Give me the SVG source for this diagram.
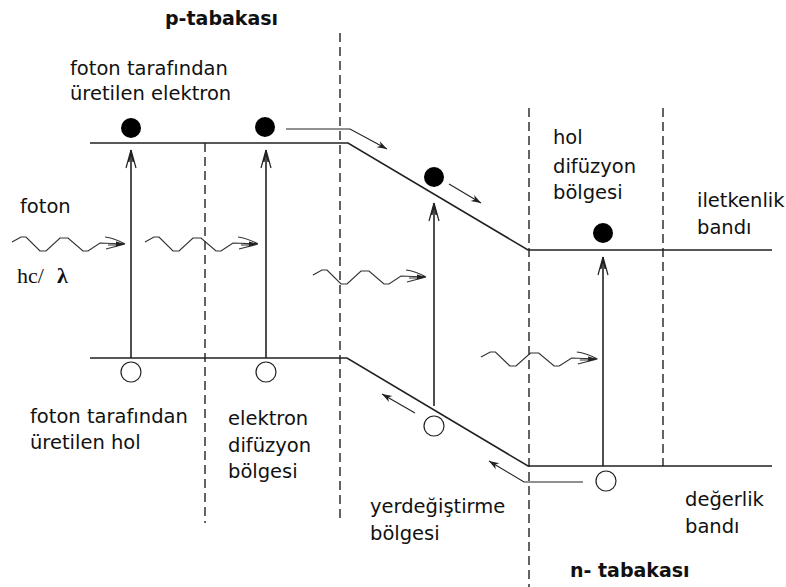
<svg xmlns="http://www.w3.org/2000/svg" width="786" height="587" viewBox="0 0 786 587">
<style>
.bg{fill:#fff}
.band{fill:none;stroke:#222;stroke-width:1.6}
.dash{fill:none;stroke:#222;stroke-width:1.4;stroke-dasharray:9,5}
.up{fill:none;stroke:#222;stroke-width:1.6}
.flow{fill:none;stroke:#222;stroke-width:1.1}
.wave{fill:none;stroke:#333;stroke-width:1.2}
.el{fill:#000}
.hole{fill:#fff;stroke:#222;stroke-width:1.2}
.t{font-family:"DejaVu Sans",sans-serif;font-size:19.5px;fill:#111}
.b{font-family:"DejaVu Sans",sans-serif;font-size:19px;font-weight:bold;fill:#111}
.s{font-family:"Liberation Serif",serif;font-size:22px;fill:#111}
</style>
<defs>
<marker id="bigHead" markerUnits="userSpaceOnUse" markerWidth="24" markerHeight="14" refX="0" refY="0" viewBox="-20 -7 22 14" orient="auto" overflow="visible">
<path d="M0,0 L-18,-5 M0,0 L-18,5 M0,0 L-12,-2 M0,0 L-12,2" fill="none" stroke="#222" stroke-width="1.2"/>
<path d="M0,0 L-7,-1.8 L-7,1.8 Z" fill="#222"/>
</marker>
<marker id="smallHead" markerUnits="userSpaceOnUse" markerWidth="14" markerHeight="10" refX="0" refY="0" viewBox="-12 -5 13 10" orient="auto" overflow="visible">
<path d="M0,0 L-10,-3.5 L-7,0 L-10,3.5 Z" fill="#222"/>
</marker>
<g id="wave">
<path class="wave" d="M0,-2 L9,-7 L14,-7 L28,7 L34,7 L48,-6 L56,-6 L71,7 L76,7 L88,-1 L113,0 M93,-7 Q102,-6 113,0 M94,5 L113,0 M96,1 L110,1"/>
<path d="M113,0 L104,-2.5 L104,2.5 Z" fill="#222"/>
</g>
</defs>
<rect class="bg" x="0" y="0" width="786" height="587"/>

<g id="regions">
<line class="dash" x1="205" y1="143" x2="205" y2="523"/>
<line class="dash" x1="340" y1="33" x2="340" y2="523"/>
<line class="dash" x1="529" y1="108" x2="529" y2="587"/>
<line class="dash" x1="663" y1="108" x2="663" y2="466"/>
</g>

<g id="bands">
<path id="conduction-band" class="band" d="M90,143 H348 L528,250 H772"/>
<path id="valence-band" class="band" d="M90,358 H347 L528,466 H772"/>
</g>

<g id="connectors">
<line class="up" x1="131" y1="358" x2="131" y2="150" marker-end="url(#bigHead)"/>
<line class="up" x1="266" y1="358" x2="266" y2="150" marker-end="url(#bigHead)"/>
<line class="up" x1="434" y1="406" x2="434" y2="203" marker-end="url(#bigHead)"/>
<line class="up" x1="603" y1="466" x2="603" y2="257" marker-end="url(#bigHead)"/>
<path class="flow" d="M286,129 H350 L387,149" marker-end="url(#smallHead)"/>
<path class="flow" d="M449,184 L481,203" marker-end="url(#smallHead)"/>
<path class="flow" d="M415,413 L382,394" marker-end="url(#smallHead)"/>
<path class="flow" d="M583,482 H524 L489,461" marker-end="url(#smallHead)"/>
</g>

<g id="photons">
<use href="#wave" transform="translate(12,244)"/>
<use href="#wave" transform="translate(145,244)"/>
<use href="#wave" transform="translate(313,277)"/>
<use href="#wave" transform="translate(481,359) scale(1.03,1)"/>
</g>

<g id="electrons">
<circle class="el" cx="131" cy="128" r="10"/>
<circle class="el" cx="265" cy="127" r="10"/>
<circle class="el" cx="434" cy="177" r="10"/>
<circle class="el" cx="603" cy="233" r="10"/>
</g>

<g id="holes">
<circle class="hole" cx="131" cy="372" r="10"/>
<circle class="hole" cx="266" cy="372" r="10"/>
<circle class="hole" cx="434" cy="426" r="10"/>
<circle class="hole" cx="606" cy="481" r="10"/>
</g>

<g id="labels">
<text class="b" x="165" y="25">p-tabakası</text>
<text class="t" x="70" y="75">foton tarafından</text>
<text class="t" x="70" y="100">üretilen elektron</text>
<text class="t" x="20" y="213">foton</text>
<text class="s" x="17" y="283">hc/<tspan x="57" font-weight="bold">λ</tspan></text>
<text class="t" x="30" y="423">foton tarafından</text>
<text class="t" x="30" y="449">üretilen hol</text>
<text class="t" x="228" y="425">elektron</text>
<text class="t" x="228" y="452">difüzyon</text>
<text class="t" x="228" y="478">bölgesi</text>
<text class="t" x="370" y="513">yerdeğiştirme</text>
<text class="t" x="370" y="540">bölgesi</text>
<text class="t" x="553" y="144">hol</text>
<text class="t" x="553" y="173">difüzyon</text>
<text class="t" x="553" y="199">bölgesi</text>
<text class="t" x="697" y="207">iletkenlik</text>
<text class="t" x="697" y="234">bandı</text>
<text class="t" x="685" y="506">değerlik</text>
<text class="t" x="685" y="533">bandı</text>
<text class="b" x="570" y="577">n- tabakası</text>
</g>
</svg>
